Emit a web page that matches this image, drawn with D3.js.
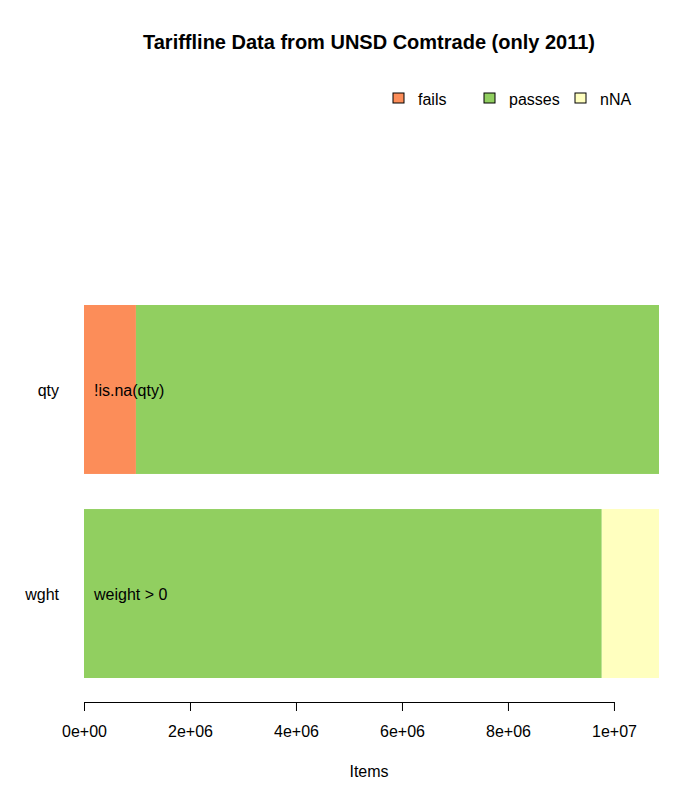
<!DOCTYPE html>
<html>
<head>
<meta charset="utf-8">
<script src="https://cdn.jsdelivr.net/npm/d3@7"></script>
<style>
  body { margin: 0; background: #fff; }
  text { font-family: "Liberation Sans", Arial, sans-serif; }
</style>
</head>
<body>
<div id="chart"></div>
<script>
// data
var categories = ['qty', 'wght'];
var ruleLabels = ['!is.na(qty)', 'weight > 0'];
var statuses = ['fails', 'passes', 'nNA'];
var fails = [0.98e6, 0];
var passes = [9.87e6, 9.77e6];
var nNA = [0, 1.08e6];
var tickValues = [0, 2e6, 4e6, 6e6, 8e6, 1e7];

var colors = { fails: '#FC8D59', passes: '#91CF60', nNA: '#FFFFBF' };

var width = 700, height = 800;
var svg = d3.select('#chart').append('svg')
  .attr('width', width)
  .attr('height', height);

var rows = categories.map(function (c, i) {
  return { cat: c, rule: ruleLabels[i], fails: fails[i], passes: passes[i], nNA: nNA[i] };
});

var stack = d3.stack().keys(statuses)(rows);
var total = d3.max(rows, function (d) { return d.fails + d.passes + d.nNA; });

var x = d3.scaleLinear()
  .domain([0, total])
  .range([84, 659]);

var y = d3.scaleBand()
  .domain(categories)
  .range([305, 678])
  .paddingInner(0.172);

// bars
svg.append('g').selectAll('g')
  .data(stack)
  .enter().append('g')
    .attr('fill', function (d) { return colors[d.key]; })
  .selectAll('rect')
  .data(function (d) { return d; })
  .enter().append('rect')
    .attr('x', function (d) { return x(d[0]); })
    .attr('y', function (d) { return y(d.data.cat); })
    .attr('width', function (d) { return x(d[1]) - x(d[0]); })
    .attr('height', y.bandwidth());

// rule text inside bars
svg.append('g').selectAll('text')
  .data(rows)
  .enter().append('text')
    .attr('x', x(0) + 10)
    .attr('y', function (d) { return y(d.cat) + y.bandwidth() / 2; })
    .attr('dy', '0.42em')
    .attr('font-size', 16)
    .text(function (d) { return d.rule; });

// category labels
svg.append('g').selectAll('text')
  .data(categories)
  .enter().append('text')
    .attr('x', 59)
    .attr('y', function (d) { return y(d) + y.bandwidth() / 2; })
    .attr('dy', '0.42em')
    .attr('text-anchor', 'end')
    .attr('font-size', 16)
    .text(function (d) { return d; });

// x axis only spans the ticks, like R
var xAxisScale = d3.scaleLinear()
  .domain([0, 1e7])
  .range([x(0), x(1e7)]);

var xAxis = d3.axisBottom(xAxisScale)
  .tickValues(tickValues)
  .tickSize(9)
  .tickSizeOuter(0)
  .tickPadding(15)
  .tickFormat(function (d) {
    var s = d3.format('.0e')(d);
    return s.replace(/e([+-])(\d)$/, 'e$10$2');
  });

var gx = svg.append('g')
  .attr('transform', 'translate(0,702)')
  .call(xAxis);
gx.select('.domain').attr('stroke', '#000');
gx.selectAll('.tick line').attr('stroke', '#000');
gx.selectAll('.tick text')
  .attr('font-size', 16)
  .attr('font-family', '"Liberation Sans", Arial, sans-serif')
  .attr('fill', '#000');

// axis title
svg.append('text')
  .attr('x', 369)
  .attr('y', 777)
  .attr('text-anchor', 'middle')
  .attr('font-size', 16)
  .text('Items');

// title
svg.append('text')
  .attr('x', 369)
  .attr('y', 49)
  .attr('text-anchor', 'middle')
  .attr('font-size', 20)
  .attr('font-weight', 'bold')
  .text('Tariffline Data from UNSD Comtrade (only 2011)');

// legend
var legendX = [393, 484, 575];
var legend = svg.append('g').selectAll('g')
  .data(statuses)
  .enter().append('g')
    .attr('transform', function (d, i) { return 'translate(' + legendX[i] + ',93)'; });

legend.append('rect')
  .attr('width', 11)
  .attr('height', 10)
  .attr('fill', function (d) { return colors[d]; })
  .attr('stroke', '#000')
  .attr('stroke-width', 1);

legend.append('text')
  .attr('x', 25)
  .attr('y', 5)
  .attr('dy', '0.42em')
  .attr('font-size', 16)
  .text(function (d) { return d; });
</script>
</body>
</html>
